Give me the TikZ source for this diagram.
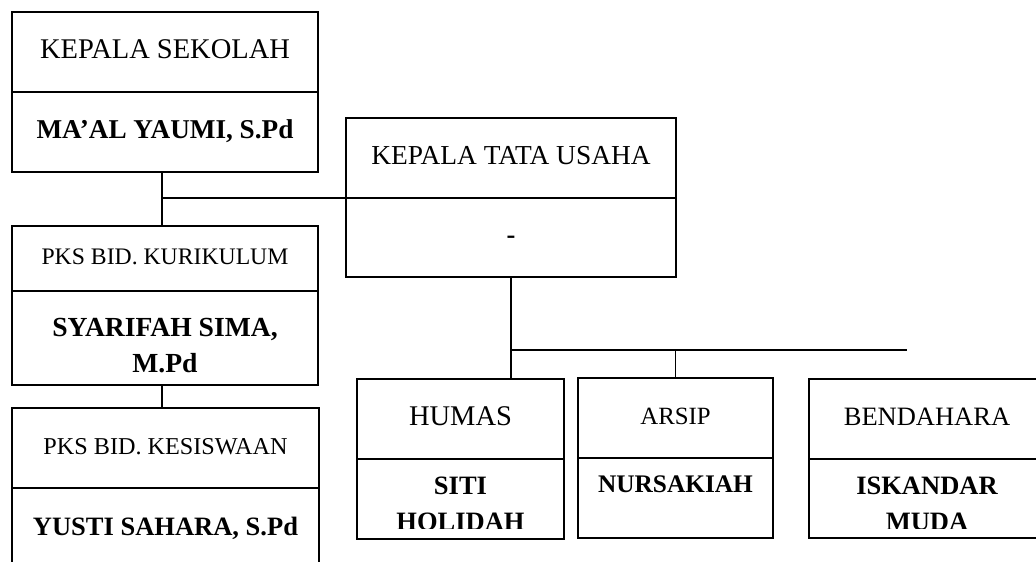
\documentclass[tikz,border=0pt]{standalone}
\usepackage{fontspec}
\setmainfont{Liberation Serif}
\usetikzlibrary{positioning, calc}

\tikzset{
  unit/.style={draw, line width=1.8pt, inner sep=0pt, outer sep=0pt,
    text height=18pt, text depth=6pt,
    font=\fontsize{26.5}{36}\selectfont},
  post/.style={unit},
  pks/.style={unit, font=\fontsize{23.7}{30}\selectfont},
  holder/.style={unit, font=\fontsize{26.5}{36}\selectfont\bfseries},
  holdertext/.style={align=center, inner sep=0pt,
    font=\fontsize{26.5}{36}\selectfont\bfseries},
  size/.style={font=\fontsize{#1}{36}\selectfont},
  boldsize/.style={font=\fontsize{#1}{36}\selectfont\bfseries},
  link/.style={line width=1.6pt}
}

\begin{document}
\begin{tikzpicture}[x=1pt, y=-1pt]
        \useasboundingbox (0,0) rectangle (1036,562);

        % kepala sekolah
        \node[post, size=28.5, minimum width=306pt, minimum height=80pt] (ksTop) at (165,52) {KEPALA SEKOLAH};
        \node[holder, boldsize=27.2, minimum width=306pt, minimum height=80pt, below=0pt of ksTop] (ksBot) {MA'AL YAUMI, S.Pd};

        % wakil kepala
        \node[pks, minimum width=306pt, minimum height=65pt] (kurTop) at (165,258.5) {PKS BID. KURIKULUM};
        \node[unit, minimum width=306pt, minimum height=94pt, below=0pt of kurTop] (kurBot) {};
        \node[holdertext, boldsize=27.6] (kurName) at (165,346) {SYARIFAH SIMA,\\M.Pd};
        \node[pks, size=24.2, minimum width=307pt, minimum height=80pt] (sisTop) at (165.5,448) {PKS BID. KESISWAAN};
        \node[holder, minimum width=307pt, minimum height=82pt, below=0pt of sisTop] (sisBot) {YUSTI SAHARA, S.Pd};

        % tata usaha
        \node[post, size=27.4, minimum width=330pt, minimum height=80pt] (ktuTop) at (511,158) {KEPALA TATA USAHA};
        \node[holder, minimum width=330pt, minimum height=79pt, below=0pt of ktuTop] (ktuBot) {-};

        % staf
        \node[post, size=28.5, minimum width=207pt, minimum height=80pt] (humTop) at (460.5,419) {HUMAS};
        \node[unit, minimum width=207pt, minimum height=80pt, below=0pt of humTop] (humBot) {};
        \node[post, size=24.8, minimum width=195pt, minimum height=80pt] (arsTop) at (675.5,418) {ARSIP};
        \node[holder, minimum width=195pt, minimum height=80pt, below=0pt of arsTop] (arsBot) {};
        \node[holdertext, boldsize=25.3] (arsName) at (675.5,484) {NURSAKIAH};
        \node[post, minimum width=236pt, minimum height=80pt] (benTop) at (927,419) {BENDAHARA};
        \node[unit, minimum width=236pt, minimum height=79pt, below=0pt of benTop] (benBot) {};

        \begin{scope}
          \clip (357,459) rectangle (1036,528);
          \node[holdertext] (humName) at (460.5,504) {SITI\\HOLIDAH};
          \node[holdertext] (benName) at (927,504) {ISKANDAR\\MUDA};
        \end{scope}

        % garis
        \coordinate (ksJoin) at ($(ksBot.south)+(-3,26)$);
        \coordinate (bus) at ($(ktuBot.south)+(0,73)$);
        \coordinate (busEnd) at (907,350);
        \draw[link] (ksBot.south -| ksJoin) -- (kurTop.north -| ksJoin);
        \draw[link] (ksJoin) -- (ksJoin -| ktuTop.south west);
        \draw[link] (kurBot.south -| ksJoin) -- (sisTop.north -| ksJoin);
        \draw[link] (ktuBot.south) -- (ktuBot.south |- humTop.north);
        \draw[link] (bus) -- (busEnd);
        \draw[link] (arsTop.north |- bus) -- (arsTop.north);
        \draw[link] ($(busEnd)+(-2,0)$) -- ($(busEnd)+(-2,0)$ |- benTop.north);
    \end{tikzpicture}
\end{document}
